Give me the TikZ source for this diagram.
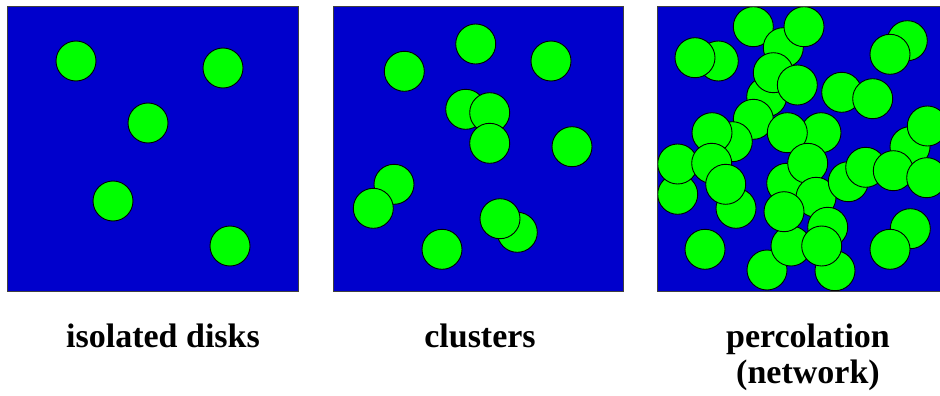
\documentclass[tikz,border=0pt]{standalone}
\usepackage{fontspec}
\setmainfont{Liberation Serif}
\definecolor{bgblue}{RGB}{0,0,204}
\definecolor{diskgreen}{RGB}{0,255,0}
\tikzset{
  panel/.style={fill=bgblue, draw=black!75, line width=1pt},
  disk/.style={fill=diskgreen, draw=black, line width=0.9pt},
  lbl/.style={font=\fontsize{34}{32}\selectfont\bfseries, inner sep=0pt, anchor=base},
}
\newcommand{\disks}[1]{%
  \foreach \cx/\cy in {#1} {\draw[disk] (\cx,\cy) circle[radius=20pt];}}
\begin{document}
\begin{tikzpicture}[x=1pt, y=-1pt]
\useasboundingbox (0,0) rectangle (940,396);

% panel 1: isolated disks
\begin{scope}
  \clip (7,7) rectangle (298,291);
  \fill[bgblue] (7,7) rectangle (298,291);
  \disks{76/61, 223/68, 148/123, 113/201, 230/246}
\end{scope}
\draw[panel, fill=none] (7,7) rectangle (298,291);

% panel 2: clusters
\begin{scope}
  \clip (333,7) rectangle (623,291);
  \fill[bgblue] (333,7) rectangle (623,291);
  \disks{404.3/71.3, 475.7/44, 551/61, 465.7/109.3, 489.7/112.7, 489.7/143.3,
         572/146.7, 394/184.3, 373.3/208.3, 517.3/232.3, 500/218.7, 442/249.3}
\end{scope}
\draw[panel, fill=none] (333,7) rectangle (623,291);

% panel 3: percolation network
\begin{scope}
  \clip (657.5,7) rectangle (941,291);
  \fill[bgblue] (657.5,7) rectangle (941,291);
  \disks{718.3/61, 695/57.7, 753.3/26.7, 783.3/47.7, 804/26.7,
         907.3/40.7, 890/54.3,
         766.7/96.7, 773.3/72.7, 797.3/85, 753.3/119.3,
         841.7/92.3, 872.7/98.7,
         821/132.7, 787.3/132.7, 732.3/141.7, 712/132.7,
         910/146.7, 927.3/126,
         677.7/194.3, 677.7/164,
         711.7/163.3, 736/208.3, 725.7/184.3,
         786.7/183.3, 807.7/163.3, 816/197.3,
         767/270, 791/246, 784/211.7,
         835/270.7, 827.7/227.3, 821.7/246,
         705/249.3,
         848.3/181.7, 865.7/167.3, 893.3/170.7, 926.7/177.7,
         910.3/228.7, 890/249.3}
\end{scope}
\draw[panel, fill=none] (941,7) -- (657.5,7) -- (657.5,291) -- (941,291);

% captions
\node[lbl] (cap1) at (163,347) {isolated disks};
\node[lbl] (cap2) at (480,347) {clusters};
\node[lbl] (cap3) at (808,347) {percolation};
\node[lbl] (cap4) at (808,383) {(network)};
\end{tikzpicture}
\end{document}
